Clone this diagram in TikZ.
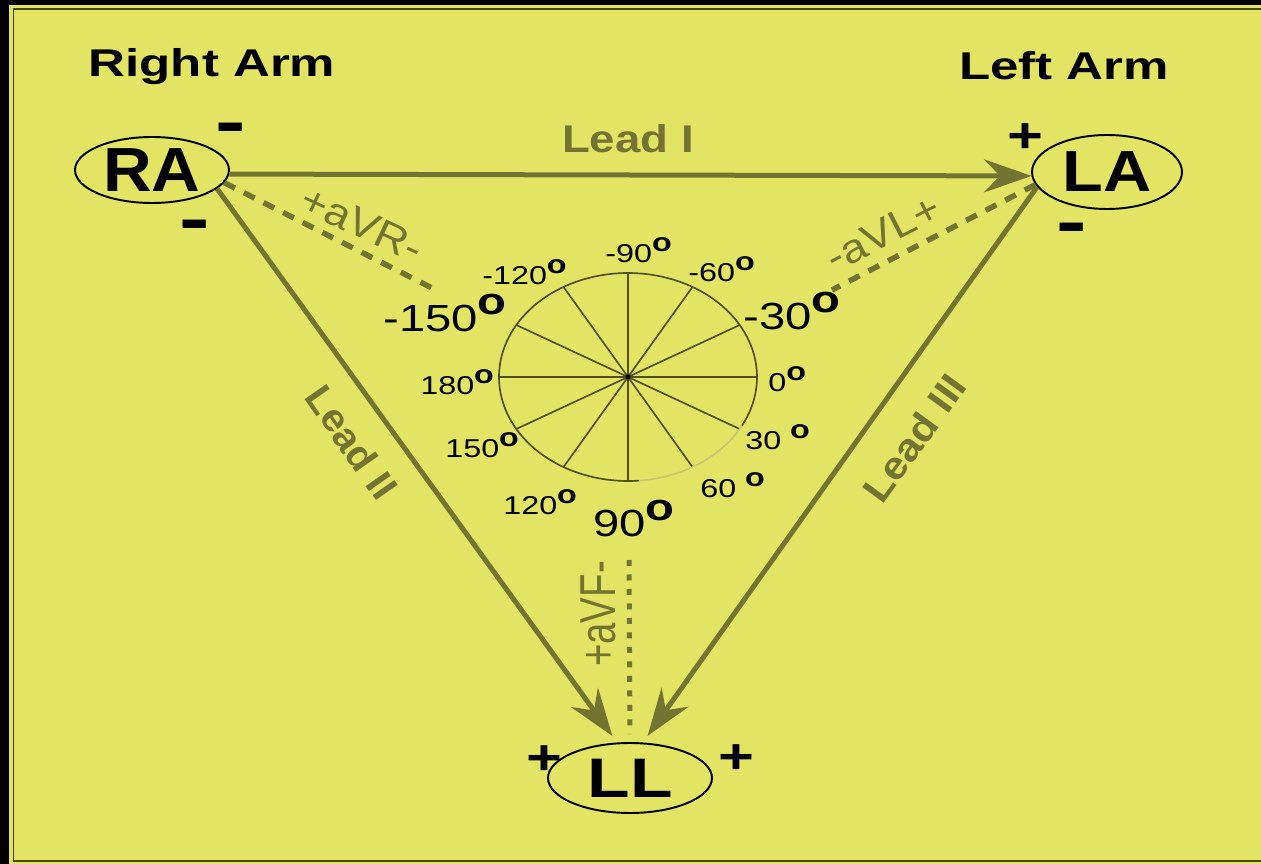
\documentclass[tikz,border=0pt]{standalone}
\usepackage{fontspec}
\usepackage{graphicx}
\setmainfont{Liberation Sans}
\usetikzlibrary{arrows.meta,shapes.geometric,calc}
\definecolor{bgyellow}{RGB}{228,228,100}
\definecolor{leadcol}{RGB}{116,116,50}
\definecolor{framecol}{RGB}{70,70,20}
\definecolor{spokecol}{RGB}{80,80,32}
\definecolor{fadecol}{RGB}{200,200,110}
\newcommand{\dg}{\raisebox{0.45em}{\bfseries o}}
\begin{document}
\begin{tikzpicture}[x=0.02cm,y=-0.02cm,
  electrode/.style={ellipse, draw=black, line width=1.1pt, fill=bgyellow, inner sep=0pt},
  armlabel/.style={anchor=base, inner sep=0pt, font=\bfseries\fontsize{22}{24}\selectfont},
  sign/.style={anchor=base, inner sep=0pt},
  lead/.style={draw=leadcol, line width=0.1cm},
  leadtip/.style={-{Stealth[length=0.95cm,width=0.66cm,inset=0.32cm]}},
  leadlabel/.style={text=leadcol, inner sep=0pt, font=\bfseries\fontsize{22}{24}\selectfont},
  auglabel/.style={text=leadcol, inner sep=0pt, font=\fontsize{23}{26}\selectfont},
  augline/.style={draw=leadcol, line width=0.11cm, dash pattern=on 0.24cm off 0.2cm},
  dotline/.style={draw=leadcol, line width=0.1cm, dash pattern=on 0.12cm off 0.17cm},
  spoke/.style={draw=spokecol, line width=0.95pt},
  degsmall/.style={anchor=base west, inner sep=0pt, font=\fontsize{14.7}{16}\selectfont},
  degbig/.style={anchor=base west, inner sep=0pt, font=\fontsize{21.5}{24}\selectfont}]
\useasboundingbox (0,0) rectangle (1261,864);
\fill[black] (0,0) rectangle (1261,864);
\fill[bgyellow] (9,5) rectangle (1261,864);
\draw[framecol, line width=0.04cm] (1261,9.5) -- (13.5,9.5) -- (13.5,860.5) -- (1261,860.5);

% titles
\node[armlabel] (rarm) at (212,77) {\scalebox{1.32}[1]{Right Arm}};
\node[armlabel] (larm) at (1064,80) {\scalebox{1.32}[1]{Left Arm}};

% axis wheel
\coordinate (C) at (628,377);
\foreach \a in {0,30,...,330}
  \draw[spoke] (C) -- ++({129*cos(\a)},{104*sin(\a)});
\draw[spoke] plot[domain=85:388, samples=120] ({628+129*cos(\x)},{377+104*sin(\x)});
\draw[draw=fadecol, line width=0.9pt] plot[domain=28:85, samples=40] ({628+129*cos(\x)},{377+104*sin(\x)});
\fill[black] (C) circle[radius=0.05cm];

% degree labels
\node[degsmall] (d-90) at (605,263) {\scalebox{1.25}[1]{-90\dg}};
\node[degsmall] (d-120) at (482,285) {\scalebox{1.25}[1]{-120\dg}};
\node[degsmall] (d-60) at (688,282) {\scalebox{1.25}[1]{-60\dg}};
\node[degbig] (d-150) at (383,332) {\scalebox{1.25}[1]{-150\dg}};
\node[degbig] (d-30) at (743,330) {\scalebox{1.25}[1]{-30\dg}};
\node[degsmall] (d180) at (420,395) {\scalebox{1.25}[1]{180\dg}};
\node[degsmall] (d0) at (768,392) {\scalebox{1.25}[1]{0\dg}};
\node[degsmall] (d150) at (445,458) {\scalebox{1.25}[1]{150\dg}};
\node[degsmall] (d30) at (745,450) {\scalebox{1.25}[1]{30 \dg}};
\node[degsmall] (d60) at (700,498) {\scalebox{1.25}[1]{60 \dg}};
\node[degsmall] (d120) at (503,515) {\scalebox{1.25}[1]{120\dg}};
\node[degbig] (d90) at (593,537) {\scalebox{1.25}[1]{90\dg}};

% electrodes
\node[electrode, minimum width=3.08cm, minimum height=1.32cm] (RA) at (152,170)
  {\fontsize{35.5}{36}\selectfont\bfseries\scalebox{1.08}[1]{RA}};
\node[electrode, minimum width=3.0cm, minimum height=1.48cm] (LA) at (1107,172)
  {\fontsize{33}{34}\selectfont\bfseries\scalebox{1.15}[1]{LA}};
\node[electrode, minimum width=3.28cm, minimum height=1.4cm] (LL) at (630,778)
  {\fontsize{31.7}{32}\selectfont\bfseries\scalebox{1.25}[1]{LL}};

% polarity signs
\node[sign, font=\bfseries\fontsize{40}{40}\selectfont] (s1) at (231,145.5) {\scalebox{1.3}[1]{-}};
\node[sign, font=\bfseries\fontsize{40}{40}\selectfont] (s2) at (195,242.5) {\scalebox{1.3}[1]{-}};
\node[sign, font=\bfseries\fontsize{40}{40}\selectfont] (s3) at (1072,245.5) {\scalebox{1.3}[1]{-}};
\node[sign, font=\bfseries\fontsize{28}{28}\selectfont] (p1) at (1025,152.5) {\scalebox{1.25}[1]{+}};
\node[sign, font=\bfseries\fontsize{28}{28}\selectfont] (p2) at (544,774.5) {\scalebox{1.25}[1]{+}};
\node[sign, font=\bfseries\fontsize{28}{28}\selectfont] (p3) at (736,773.5) {\scalebox{1.25}[1]{+}};

% augmented leads
\coordinate (aVRend) at (432,288);
\coordinate (aVLend) at (832,290);
\coordinate (aVFtop) at (629,560);
\draw[augline] (RA.-10) -- (aVRend);
\draw[augline] (LA.190) -- (aVLend);
\draw[dotline, shorten >=0.16cm] (aVFtop) -- (LL.north);
\node[auglabel, rotate=-25] (aVR) at (362,224) {\scalebox{1.12}[1]{+aVR-}};
\node[auglabel, rotate=27] (aVL) at (883,233) {\scalebox{1.12}[1]{-aVL+}};
\node[auglabel, rotate=90] (aVF) at (598,614) {\scalebox{0.95}[1.25]{+aVF-}};

% limb leads
\draw[lead, leadtip] (RA.-3) -- (LA.183);
\draw[lead, leadtip, shorten >=0.16cm] (RA.-16) -- (LL.110);
\draw[lead, leadtip, shorten >=0.16cm] (LA.192) -- (LL.70);
\node[leadlabel, anchor=base] (L1) at (628,153) {\scalebox{1.18}[1]{Lead I}};
\node[leadlabel, rotate=-55] (L2) at (352,442) {\scalebox{1.05}[1]{Lead II}};
\node[leadlabel, rotate=54] (L3) at (914,438) {\scalebox{1.1}[1]{Lead III}};
\end{tikzpicture}
\end{document}
